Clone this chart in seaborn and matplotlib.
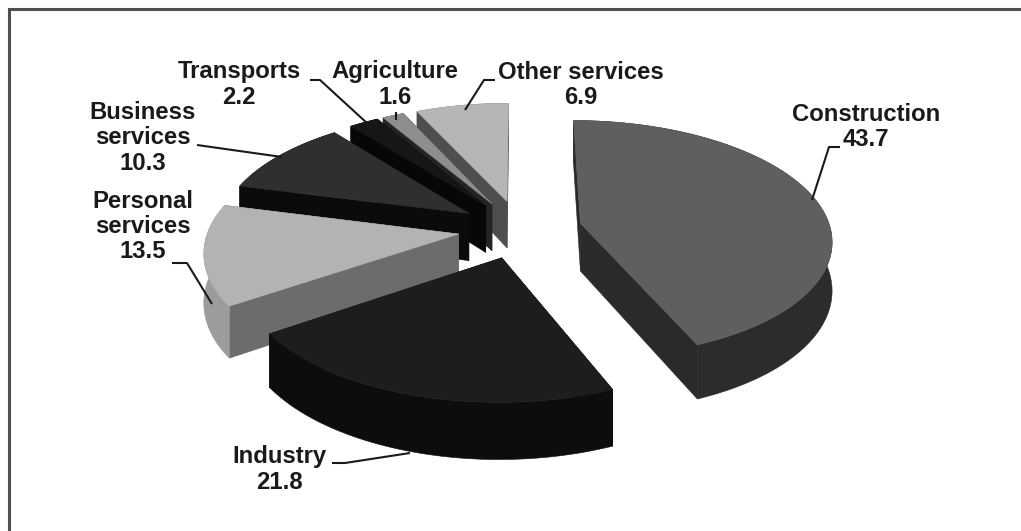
import numpy as np
import matplotlib
matplotlib.use("Agg")
import matplotlib.pyplot as plt
from matplotlib.patches import Polygon
import seaborn as sns

# Employment shares by sector, clockwise from twelve o'clock
sectors = ["Construction", "Industry", "Personal\nservices", "Business\nservices",
           "Transports", "Agriculture", "Other services"]
shares = [43.7, 21.8, 13.5, 10.3, 2.2, 1.6, 6.9]

top_shades = ["#5f5f5f", "#1d1d1d", "#b3b3b3", "#2f2f2f", "#161616", "#8e8e8e", "#b6b6b6"]
cut_shades = ["#2a2a2a", "#0f0f0f", "#6c6c6c", "#0b0b0b", "#070707", "#242424", "#4e4e4e"]
rim_shades = ["#2c2c2c", "#0d0d0d", "#9c9c9c", "#0d0d0d", "#0a0a0a", "#555555", "#6a6a6a"]

# Layout: label centre, then leader polyline in pixel coordinates
label_layout = {
    "Construction": ((866, 127), [(840, 147), (829, 147), (812, 200)]),
    "Industry": ((279, 469.5), [(332, 463), (345, 463), (410, 453)]),
    "Personal\nservices": ((143, 226.5), [(172, 263), (187, 263), (212, 304)]),
    "Business\nservices": ((143, 138), [(197, 145), (282, 157)]),
    "Transports": ((239, 84.5), [(310, 80), (320, 80), (368, 124)]),
    "Agriculture": ((395, 84.5), [(396, 112), (396, 120)]),
    "Other services": ((581, 85), [(495, 80), (484, 80), (465, 110)]),
}

# Projection of the pie's disc onto the page
CX, CY = 520.0, 229.0
RADIUS = 250.0
EXPLODE = 62.0
TILT = 0.47
PERSP = 0.13
DEPTH = 48.0


def project(x, y, z=0.0):
    """Map disc coordinates (y pointing away from the viewer) to pixels."""
    p = 1.0 / (1.0 + PERSP * np.asarray(y) / RADIUS)
    return np.column_stack([CX + np.asarray(x) * p,
                            CY - TILT * np.asarray(y) * p + z * p])


sns.set_theme(style="white")
plt.rcParams["font.family"] = ["Liberation Sans", "DejaVu Sans"]

fig, ax = plt.subplots(figsize=(10.21, 5.31), dpi=100)
ax.set_position([0, 0, 1, 1])
ax.set_xlim(0, 1021)
ax.set_ylim(531, 0)
ax.axis("off")

# Frame rule along the left and top edges only
ax.plot([8.5, 8.5, 1021], [531, 8.5, 8.5], color="#505050", linewidth=2.2,
        solid_joinstyle="miter")

edges = np.concatenate([[0], np.cumsum(shares)]) / np.sum(shares) * 2 * np.pi

# Painter's order: the wedges at the back of the pie are drawn first
wedges = []
for i in range(len(shares)):
    t0, t1 = edges[i], edges[i + 1]
    mid = (t0 + t1) / 2
    ax0, ay0 = EXPLODE * np.sin(mid), EXPLODE * np.cos(mid)
    wedges.append((ay0, i, t0, t1, ax0, ay0))
wedges.sort(key=lambda w: -w[0])

for _, i, t0, t1, ax0, ay0 in wedges:
    th = np.linspace(t0, t1, max(12, int((t1 - t0) * 60)))
    arc_x, arc_y = ax0 + RADIUS * np.sin(th), ay0 + RADIUS * np.cos(th)

    # Side walls, furthest first so the nearer faces cover them
    faces = []
    for ex, ey in [(arc_x[0], arc_y[0]), (arc_x[-1], arc_y[-1])]:
        xs, ys = np.array([ax0, ex]), np.array([ay0, ey])
        top_edge, low_edge = project(xs, ys), project(xs, ys, DEPTH)
        faces.append((ys.mean(), np.vstack([top_edge, low_edge[::-1]]), cut_shades[i]))
    top_edge, low_edge = project(arc_x, arc_y), project(arc_x, arc_y, DEPTH)
    faces.append((arc_y.min(), np.vstack([top_edge, low_edge[::-1]]), rim_shades[i]))
    for _, verts, shade in sorted(faces, key=lambda f: -f[0]):
        ax.add_patch(Polygon(verts, closed=True, facecolor=shade, edgecolor=shade, linewidth=0.4))

    rim = project(arc_x, arc_y)
    apex = project(np.array([ax0]), np.array([ay0]))
    ax.add_patch(Polygon(np.vstack([apex, rim]), closed=True,
                         facecolor=top_shades[i], edgecolor=top_shades[i], linewidth=0.4))

# Sector names with their values and leader lines
for name, value in zip(sectors, shares):
    (lx, ly), leader = label_layout[name]
    ax.text(lx, ly, f"{name}\n{value}", ha="center", va="center", fontsize=17.2,
            fontweight="bold", color="#1a1a1a", linespacing=1.12)
    pts = np.array(leader)
    ax.plot(pts[:, 0], pts[:, 1], color="#1a1a1a", linewidth=1.5, solid_capstyle="butt")

fig.savefig("out.png", dpi=100, facecolor="white")
